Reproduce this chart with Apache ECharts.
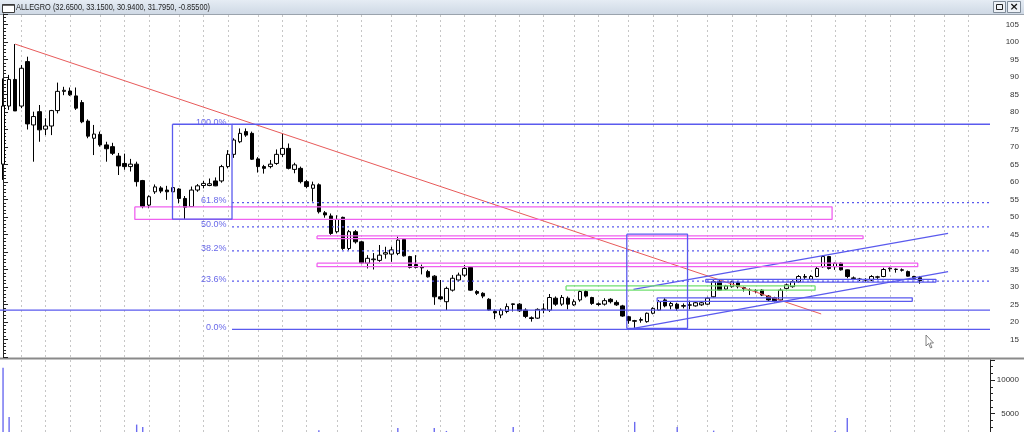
<!DOCTYPE html>
<html lang="pl">
<head>
    <meta charset="UTF-8">
    <title>ALLEGRO</title>
    <style>
        html, body { margin: 0; padding: 0; background: #fff; }
        #chart { width: 1024px; height: 432px; }
    </style>
</head>
<body>
    <div id="chart"></div>

    <script src="https://cdn.jsdelivr.net/npm/echarts@6/dist/echarts.min.js"></script>
    <script>
        // weekly candles
        let opens = [
            65.1, 81.7, 89.3, 81.7, 94.4, 76.3, 80.1, 75.1, 76.0, 80.4,
            85.9, 86.0, 84.6, 82.7, 77.4, 72.5, 73.6, 70.6, 70.1, 67.4,
            65.3, 64.4, 65.1, 60.4, 53.4, 57.2, 58.3, 57.7, 57.2, 58.0,
            55.3, 53.0, 57.7, 59.0, 59.0, 60.3, 60.3, 64.4, 67.9, 71.5,
            74.4, 73.9, 66.6, 64.4, 64.4, 65.3, 67.9, 69.6, 63.6, 63.9,
            60.1, 58.2, 59.2, 51.2, 50.3, 45.8, 49.9, 41.0, 45.8, 42.9,
            36.8, 37.8, 37.6, 39.4, 39.4, 39.6, 43.6, 38.7, 36.4, 35.7,
            34.4, 33.1, 27.2, 25.8, 29.1, 32.0, 33.4, 35.6, 28.7, 28.2,
            26.5, 23.0, 22.0, 23.0, 25.0, 25.1, 23.4, 21.2, 21.1, 23.5,
            23.4, 26.8, 25.1, 26.8, 24.9, 26.3, 28.7, 27.0, 25.2, 25.1,
            26.5, 25.6, 24.6, 21.5, 20.2, 20.5, 20.1, 22.5, 23.4, 26.3,
            24.6, 25.1, 24.5, 24.8, 24.6, 24.9, 25.1, 27.2, 31.5, 29.4,
            30.1, 31.2, 29.8, 29.1, 29.0, 29.1, 27.4, 26.9, 26.3, 29.6,
            30.1, 31.5, 32.8, 32.2, 33.0, 35.8, 38.7, 35.8, 36.8, 34.9,
            32.6, 32.3, 32.1, 32.0, 32.8, 33.0, 35.2, 35.0, 34.9, 34.4,
            33.0, 32.65
        ];
        let highs = [
            89.6, 90.6, 99.4, 93.4, 95.8, 80.1, 82.0, 78.2, 80.6, 88.4,
            87.2, 87.0, 87.0, 83.4, 77.9, 76.3, 74.4, 71.5, 71.2, 68.3,
            68.1, 66.6, 65.8, 60.6, 56.2, 59.3, 58.8, 58.9, 58.8, 58.2,
            56.0, 58.7, 59.4, 60.3, 61.0, 61.3, 64.9, 69.1, 72.5, 75.3,
            75.3, 74.4, 67.1, 64.9, 66.3, 69.3, 73.9, 71.0, 65.5, 64.4,
            60.6, 60.1, 59.6, 51.7, 51.0, 50.5, 50.1, 46.3, 46.3, 43.1,
            39.1, 39.7, 42.0, 41.5, 41.5, 44.4, 44.0, 38.9, 39.1, 36.4,
            34.9, 33.4, 32.0, 30.1, 33.4, 34.1, 36.3, 36.0, 29.1, 28.5,
            26.8, 23.6, 23.9, 25.3, 25.3, 25.4, 23.9, 21.6, 23.9, 25.3,
            28.0, 27.3, 27.7, 27.3, 26.5, 29.1, 29.1, 27.2, 25.6, 26.8,
            26.8, 26.2, 24.9, 21.7, 20.6, 21.3, 22.7, 24.2, 26.3, 26.8,
            25.8, 25.5, 25.3, 26.1, 25.8, 25.8, 27.2, 32.0, 32.2, 30.6,
            31.8, 31.7, 30.1, 29.6, 29.4, 29.4, 27.7, 27.2, 29.6, 31.0,
            32.0, 33.4, 33.7, 33.4, 35.8, 39.1, 38.9, 37.0, 37.0, 35.0,
            33.0, 32.6, 32.5, 33.4, 33.2, 35.5, 35.6, 35.3, 35.3, 34.7,
            33.2, 33.15
        ];
        let lows = [
            60.6, 80.6, 80.6, 81.1, 75.0, 65.8, 71.5, 73.4, 73.4, 79.6,
            84.8, 84.6, 80.6, 76.8, 72.5, 67.7, 70.1, 65.8, 67.7, 62.0,
            63.5, 63.0, 58.7, 52.5, 52.5, 56.6, 56.8, 54.9, 57.0, 53.9,
            49.4, 53.0, 57.2, 58.2, 58.8, 58.8, 59.8, 63.9, 66.9, 71.1,
            72.9, 66.3, 62.7, 62.4, 63.9, 64.9, 67.1, 63.6, 62.5, 59.6,
            58.2, 54.4, 51.0, 49.8, 44.9, 45.3, 40.6, 40.5, 42.4, 36.5,
            35.3, 35.0, 37.2, 38.1, 37.2, 39.1, 38.7, 35.3, 35.3, 33.6,
            32.7, 24.9, 26.3, 23.4, 28.7, 31.5, 32.9, 28.9, 27.7, 26.8,
            23.2, 20.8, 21.1, 22.5, 23.0, 22.9, 21.1, 20.1, 20.9, 22.5,
            22.9, 24.6, 24.6, 23.6, 24.6, 25.8, 27.0, 24.9, 24.6, 24.7,
            25.3, 24.6, 21.5, 19.5, 17.9, 19.8, 19.8, 22.2, 23.2, 24.2,
            23.6, 23.2, 23.9, 23.6, 24.4, 24.6, 24.9, 27.0, 28.9, 29.2,
            29.8, 29.6, 28.7, 27.7, 28.2, 27.4, 26.0, 25.6, 26.0, 29.3,
            29.8, 31.2, 32.3, 31.9, 32.8, 35.5, 35.0, 34.9, 34.7, 32.5,
            32.0, 31.7, 31.5, 31.7, 32.3, 32.8, 34.4, 34.1, 34.4, 33.0,
            32.2, 30.94
        ];
        let closes = [
            81.7, 89.3, 80.3, 92.5, 76.6, 78.7, 74.9, 76.0, 80.4, 85.9,
            86.2, 84.9, 81.1, 77.2, 73.1, 73.7, 70.6, 69.5, 68.2, 64.6,
            64.4, 65.1, 60.1, 53.0, 55.8, 58.6, 57.4, 57.2, 58.4, 55.3,
            52.8, 57.7, 58.9, 59.6, 59.5, 58.9, 64.4, 67.9, 72.0, 73.9,
            73.4, 66.5, 64.4, 63.9, 65.1, 67.9, 69.6, 63.9, 64.9, 60.1,
            58.7, 59.2, 51.5, 50.6, 45.3, 49.3, 41.0, 45.8, 42.9, 36.9,
            38.2, 38.0, 39.1, 39.8, 40.6, 43.4, 38.9, 35.6, 35.6, 35.5,
            32.9, 27.2, 26.6, 29.6, 32.5, 33.4, 35.3, 29.1, 28.2, 27.4,
            23.4, 22.6, 23.4, 24.4, 25.2, 23.2, 21.6, 21.0, 23.6, 23.7,
            27.0, 25.1, 27.0, 25.1, 25.8, 28.7, 27.4, 25.3, 25.0, 26.1,
            25.8, 24.9, 21.7, 20.4, 20.4, 20.7, 22.5, 23.9, 25.8, 24.6,
            25.3, 23.9, 24.7, 24.9, 25.5, 25.5, 26.8, 31.5, 29.1, 30.3,
            31.5, 30.1, 29.5, 29.0, 28.9, 27.7, 26.3, 26.0, 29.1, 30.6,
            31.5, 33.0, 33.0, 33.0, 35.3, 38.7, 35.3, 36.8, 34.9, 33.0,
            32.4, 32.1, 32.0, 33.0, 32.9, 35.0, 35.4, 35.1, 34.8, 33.1,
            32.5, 31.795
        ];
        let volumes = [
            11860, 4500, 2100, 1900, 2200, 1900, 1600, 1300, 1500, 1700,
            1200, 1100, 1300, 1500, 1400, 1600, 1300, 1200, 1100, 1400,
            1200, 1100, 3350, 3000, 1800, 1300, 1100, 1200, 1000, 1400,
            1800, 1500, 1100, 1000, 900, 1000, 1300, 1400, 1600, 1500,
            1100, 1700, 1400, 1000, 1000, 1200, 1500, 1500, 1100, 1300,
            1200, 1400, 2500, 1300, 1800, 1600, 2100, 1700, 1500, 2000,
            1600, 1300, 1400, 1200, 1300, 2850, 1700, 1500, 1300, 1200,
            1400, 2850, 1800, 2400, 1900, 1400, 1500, 1900, 1300, 1200,
            1700, 1500, 1300, 1200, 3000, 1400, 1600, 1300, 1400, 1200,
            1700, 1300, 1200, 1300, 1100, 1400, 1200, 1300, 1000, 1100,
            1000, 1100, 1700, 2000, 3750, 1600, 1500, 1400, 1600, 1300,
            1200, 3000, 1100, 1000, 1000, 1100, 1300, 2450, 1600, 1200,
            1300, 1200, 1100, 1000, 1000, 1200, 1300, 1200, 1700, 1400,
            1300, 1400, 1100, 1200, 1500, 1900, 1800, 2400, 1500, 4350,
            1300, 1100, 1000, 1200, 1000, 1400, 1100, 1000, 1000, 1200,
            1100, 1300
        ];

        // drawing tools, in (week index, price)
        let fibLevels = [17.9, 31.7, 40.3, 47.2, 54.1, 76.5];
        let fibNames = ['0.0%', '23.6%', '38.2%', '50.0%', '61.8%', '100.0%'];
        let fibFrom = 37.7;
        let supportLevel = 23.4;
        let redTrend = [[2, 99.4], [134.7, 22.3]];
        let channelTop = [[103.8, 29.3], [155.6, 45.3]];
        let channelBottom = [[103.8, 18.2], [155.6, 34.4]];
        // boxes: [from, to, top, bottom]
        let blueBoxes = [[27.9, 37.7, 76.5, 49.4], [102.7, 112.7, 45.1, 18.2], [115.7, 153.6, 32.2, 31.4], [107.7, 149.7, 26.9, 25.9]];
        let pinkBoxes = [[21.7, 136.5, 52.9, 49.3], [51.7, 141.6, 44.6, 43.8], [51.7, 150.6, 36.8, 35.8]];
        let greenBoxes = [[92.7, 133.7, 30.3, 29.1]];

        let weekCount = 163;   // 152 candles + empty space on the right
        let weeks = [];
        let day = Date.UTC(2020, 9, 12);
        for (let i = 0; i < weekCount; i++) {
            weeks.push(new Date(day + i * 7 * 864e5).toISOString().slice(0, 10));
        }
        // vertical grid: first week of each month (by the friday)
        let monthWeeks = weeks.filter((w, i) => {
            if (i == 0) return false;
            let f = new Date(Date.parse(w) + 4 * 864e5).getUTCMonth();
            let p = new Date(Date.parse(weeks[i - 1]) + 4 * 864e5).getUTCMonth();
            return f != p;
        });

        let candles = opens.map((o, i) => [o, closes[i], lows[i], highs[i]]);
        let xEnd = weekCount - 0.5;

        const BLUE = '#5a5aee', PINK = '#f060f0', GREEN = '#70e070', RED = '#e85a5a';
        const FONT = '"Liberation Sans Narrow", "Liberation Sans", Arial, sans-serif';

        function boxPath(b) {
            return [[b[0], b[2]], [b[1], b[2]], [b[1], b[3]], [b[0], b[3]], [b[0], b[2]]];
        }
        function tool(data, color, width, type) {
            return {
                type: 'line', xAxisIndex: 2, yAxisIndex: 0, data: data, symbol: 'none',
                silent: true, animation: false, z: 4,
                lineStyle: { color: color, width: width, type: type || 'solid' }
            };
        }
        let gridMark = {
            symbol: 'none', silent: true, animation: false, z: 1,
            label: { show: false },
            lineStyle: { color: '#c6c6c6', width: 1, type: [2, 3] },
            data: monthWeeks.map(w => ({ xAxis: w }))
        };

        let series = [
            {
                type: 'candlestick', xAxisIndex: 0, yAxisIndex: 0, data: candles, barWidth: 4,
                animation: false, z: 3,
                itemStyle: { color: '#fff', color0: '#000', borderColor: '#000', borderColor0: '#000', borderWidth: 1 },
                markLine: gridMark
            },
            {
                type: 'bar', xAxisIndex: 1, yAxisIndex: 1, data: volumes, barWidth: 1.4,
                animation: false, itemStyle: { color: '#6b6bf0' },
                markLine: gridMark
            },
            tool(redTrend, RED, 1),
            tool(channelTop, BLUE, 1.2),
            tool(channelBottom, BLUE, 1.2),
            tool([[-0.5, supportLevel], [xEnd, supportLevel]], BLUE, 1.2)
        ];
        fibLevels.forEach((v, i) => {
            let solid = i == 0 || i == fibLevels.length - 1;
            series.push(tool([[fibFrom, v], [xEnd, v]], BLUE, solid ? 1.3 : 1.2, solid ? 'solid' : [2, 3]));
        });
        pinkBoxes.forEach(b => series.push(tool(boxPath(b), PINK, 1.3)));
        greenBoxes.forEach(b => series.push(tool(boxPath(b), GREEN, 1.3)));
        blueBoxes.forEach(b => series.push(tool(boxPath(b), BLUE, 1.3)));
        series.push({
            type: 'scatter', xAxisIndex: 2, yAxisIndex: 0, symbolSize: 1, silent: true, animation: false,
            itemStyle: { color: 'transparent' },
            data: fibLevels.map((v, i) => ({ name: fibNames[i], value: [fibFrom, v] })),
            label: { show: true, position: 'left', distance: 5, offset: [0, -2], formatter: '{b}', color: '#4242e4', fontSize: 9, fontFamily: FONT }
        });

        let chart = echarts.init(document.getElementById('chart'));
        chart.setOption({
            animation: false,
            backgroundColor: '#fff',
            textStyle: { fontFamily: FONT },
            grid: [
                { left: 0, right: 34, top: 14, height: 343, outerBoundsMode: 'none' },
                { left: 0, right: 34, top: 360, height: 87, outerBoundsMode: 'none' }
            ],
            xAxis: [
                { type: 'category', gridIndex: 0, data: weeks, axisLine: { show: false }, axisTick: { show: false }, axisLabel: { show: false } },
                { type: 'category', gridIndex: 1, data: weeks, axisLine: { show: false }, axisTick: { show: false }, axisLabel: { show: false } },
                { type: 'value', gridIndex: 0, min: -0.5, max: xEnd, show: false }
            ],
            yAxis: [
                {
                    type: 'value', gridIndex: 0, position: 'right', min: 10, max: 108, interval: 5,
                    axisLine: { show: true, lineStyle: { color: '#222' } },
                    axisTick: { show: true, length: 5, lineStyle: { color: '#222' } },
                    minorTick: { show: true, splitNumber: 5, length: 3, lineStyle: { color: '#222' } },
                    splitLine: { show: false },
                    axisLabel: { showMinLabel: false, showMaxLabel: false, align: 'right', margin: 29, color: '#333', fontSize: 8 }
                },
                {
                    type: 'value', gridIndex: 1, position: 'right', min: 0, max: 13000, interval: 5000,
                    axisLine: { show: true, lineStyle: { color: '#222' } },
                    axisTick: { show: true, length: 5, lineStyle: { color: '#222' } },
                    minorTick: { show: true, splitNumber: 5, length: 3, lineStyle: { color: '#222' } },
                    splitLine: { show: false },
                    axisLabel: {
                        showMinLabel: false, showMaxLabel: false, align: 'right', margin: 29, color: '#333', fontSize: 8,
                        formatter: v => String(v)
                    }
                }
            ],
            series: series,
            graphic: [
                {
                    type: 'rect', silent: true, shape: { x: 0, y: 0, width: 1024, height: 14 },
                    style: { fill: new echarts.graphic.LinearGradient(0, 0, 0, 1, [{ offset: 0, color: '#e5ecf4' }, { offset: 1, color: '#cfd9e5' }]) }
                },
                { type: 'line', silent: true, shape: { x1: 0, y1: 14.5, x2: 1024, y2: 14.5 }, style: { stroke: '#9aa3ad', lineWidth: 1 } },
                { type: 'rect', silent: true, shape: { x: 2.5, y: 4.5, width: 12, height: 8 }, style: { fill: '#fff', stroke: '#3a3a3a', lineWidth: 1 } },
                { type: 'line', silent: true, shape: { x1: 2.5, y1: 5, x2: 14.5, y2: 5 }, style: { stroke: '#3a3a3a', lineWidth: 1.5 } },
                {
                    type: 'text', silent: true, x: 16, y: 7.5, scaleX: 0.82,
                    style: { text: 'ALLEGRO (32.6500, 33.1500, 30.9400, 31.7950, -0.85500)', fill: '#1e1e1e', font: '9px ' + FONT, verticalAlign: 'middle' }
                },
                { type: 'rect', silent: true, shape: { x: 993.5, y: 1.5, width: 12, height: 11 }, style: { fill: '#eef2f7', stroke: '#7f8b98', lineWidth: 1 } },
                { type: 'rect', silent: true, shape: { x: 996.5, y: 4.5, width: 6, height: 5 }, style: { fill: 'none', stroke: '#222', lineWidth: 1 } },
                { type: 'rect', silent: true, shape: { x: 1007.5, y: 1.5, width: 13, height: 11 }, style: { fill: '#eef2f7', stroke: '#7f8b98', lineWidth: 1 } },
                { type: 'text', silent: true, x: 1014, y: 7.5, style: { text: '×', fill: '#111', font: 'bold 11px "DejaVu Sans", sans-serif', align: 'center', verticalAlign: 'middle' } },
                { type: 'rect', silent: true, shape: { x: 0, y: 357.5, width: 1024, height: 2 }, style: { fill: '#8a8a8a' } },
                {
                    type: 'polygon', silent: true,
                    shape: { points: [[926, 335], [926, 346], [928.5, 343.5], [930.5, 348], [932, 347.3], [930, 343], [933.5, 343]] },
                    style: { fill: '#fff', stroke: '#666', lineWidth: 0.8 }
                }
            ]
        });
    </script>
</body>
</html>
